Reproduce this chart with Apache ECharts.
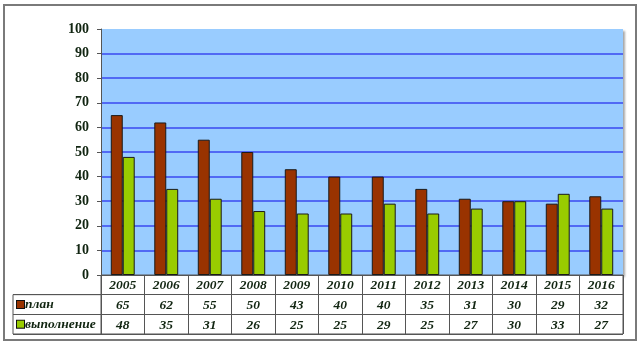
<!DOCTYPE html>
<html><head><meta charset="utf-8">
<script src="https://cdn.jsdelivr.net/npm/echarts@6/dist/echarts.min.js"></script>
<style>html,body{margin:0;padding:0;background:#fff}#c{width:642px;height:347px}</style>
</head><body><div id="c"></div>
<script>
const years = ['2005','2006','2007','2008','2009','2010','2011','2012','2013','2014','2015','2016'];
const plan = [65,62,55,50,43,40,40,35,31,30,29,32];
const done = [48,35,31,26,25,25,29,25,27,30,33,27];
const rowNames = ['план','выполнение'];
const yMin = 0, yMax = 100, yStep = 10;

const txtColor = '#112511';
const serif = '"Liberation Serif","Times New Roman",serif';

const tableData = [];
years.forEach((y,i)=>tableData.push([i,0,y]));
plan.forEach((v,i)=>tableData.push([i,1,v]));
done.forEach((v,i)=>tableData.push([i,2,v]));

const gridLineColors = [];
for (let v = yMin; v <= yMax; v += yStep) gridLineColors.push((v === yMin || v === yMax) ? 'rgba(0,0,0,0)' : '#3a48f0');

const chart = echarts.init(document.getElementById('c'), null, {renderer:'canvas'});
chart.setOption({
  animation:false,
  backgroundColor:'#fff',
  graphic:[{type:'rect', shape:{x:4,y:5,width:632,height:335}, style:{fill:'none', stroke:'#7a7a7a', lineWidth:2}, z:-1}],
  grid:[
    {left:101, top:29, width:522, height:246, show:true, backgroundColor:'#99ccff', borderWidth:0,
     shadowColor:'rgba(0,0,0,0.35)', shadowOffsetX:2, shadowOffsetY:2, shadowBlur:2},
    {left:101, top:275, width:522, height:59, show:true, backgroundColor:'#fff', borderColor:'#555', borderWidth:1},
    {left:13, top:294.67, width:88, height:39.33, show:true, backgroundColor:'#fff', borderColor:'#555', borderWidth:1}
  ],
  xAxis:[
    {gridIndex:0, type:'category', data:years, axisLine:{show:false}, axisTick:{show:false}, axisLabel:{show:false}},
    {gridIndex:1, type:'category', data:years, axisLine:{show:false}, axisTick:{show:false}, axisLabel:{show:false},
     splitLine:{show:true, interval:0, lineStyle:{color:'#555', width:1}}},
    {gridIndex:2, type:'value', show:false}
  ],
  yAxis:[
    {gridIndex:0, type:'value', min:yMin, max:yMax, interval:yStep,
     axisLine:{show:true, lineStyle:{color:'#555', width:1}},
     axisTick:{show:true, length:4, lineStyle:{color:'#555'}},
     axisLabel:{margin:12, color:txtColor, fontFamily:serif, fontWeight:'bold', fontSize:14},
     splitLine:{show:true, lineStyle:{color:gridLineColors, width:1.6}}},
    {gridIndex:1, type:'category', data:['0','1','2'], inverse:true, axisLine:{show:false}, axisTick:{show:false}, axisLabel:{show:false},
     splitLine:{show:true, interval:0, lineStyle:{color:'#555', width:1}}},
    {gridIndex:2, type:'category', data:rowNames, inverse:true, axisLine:{show:false}, axisTick:{show:false},
     splitLine:{show:true, interval:0, lineStyle:{color:'#555', width:1}},
     axisLabel:{inside:true, margin:4, interval:0, align:'left',
       formatter:v => (v === rowNames[0] ? '{a| }' : '{b| }') + '{t|' + v + '}',
       rich:{
         a:{width:7, height:7, backgroundColor:'#993300', borderColor:'#111', borderWidth:1},
         b:{width:7, height:7, backgroundColor:'#99cc00', borderColor:'#111', borderWidth:1},
         t:{color:txtColor, fontFamily:serif, fontWeight:'bold', fontStyle:'italic', fontSize:13.5, padding:[0,0,0,1]}
       }}}
  ],
  series:[
    {type:'bar', name:rowNames[0], xAxisIndex:0, yAxisIndex:0, data:plan, barGap:'0%', barCategoryGap:'45%',
     itemStyle:{color:'#993300', borderColor:'#1a1a1a', borderWidth:1}},
    {type:'bar', name:rowNames[1], xAxisIndex:0, yAxisIndex:0, data:done, barGap:'0%', barCategoryGap:'45%',
     itemStyle:{color:'#99cc00', borderColor:'#1a1a1a', borderWidth:1}},
    {type:'custom', xAxisIndex:1, yAxisIndex:1, data:tableData, silent:true,
     renderItem:(params, api) => {
       const p = api.coord([api.value(0), api.value(1)]);
       return {type:'text', x:p[0], y:p[1]+1, style:{text:String(tableData[params.dataIndex][2]), fill:txtColor,
         font:'italic bold 13.5px ' + serif, textAlign:'center', textVerticalAlign:'middle'}};
     }}
  ]
});
</script></body></html>
